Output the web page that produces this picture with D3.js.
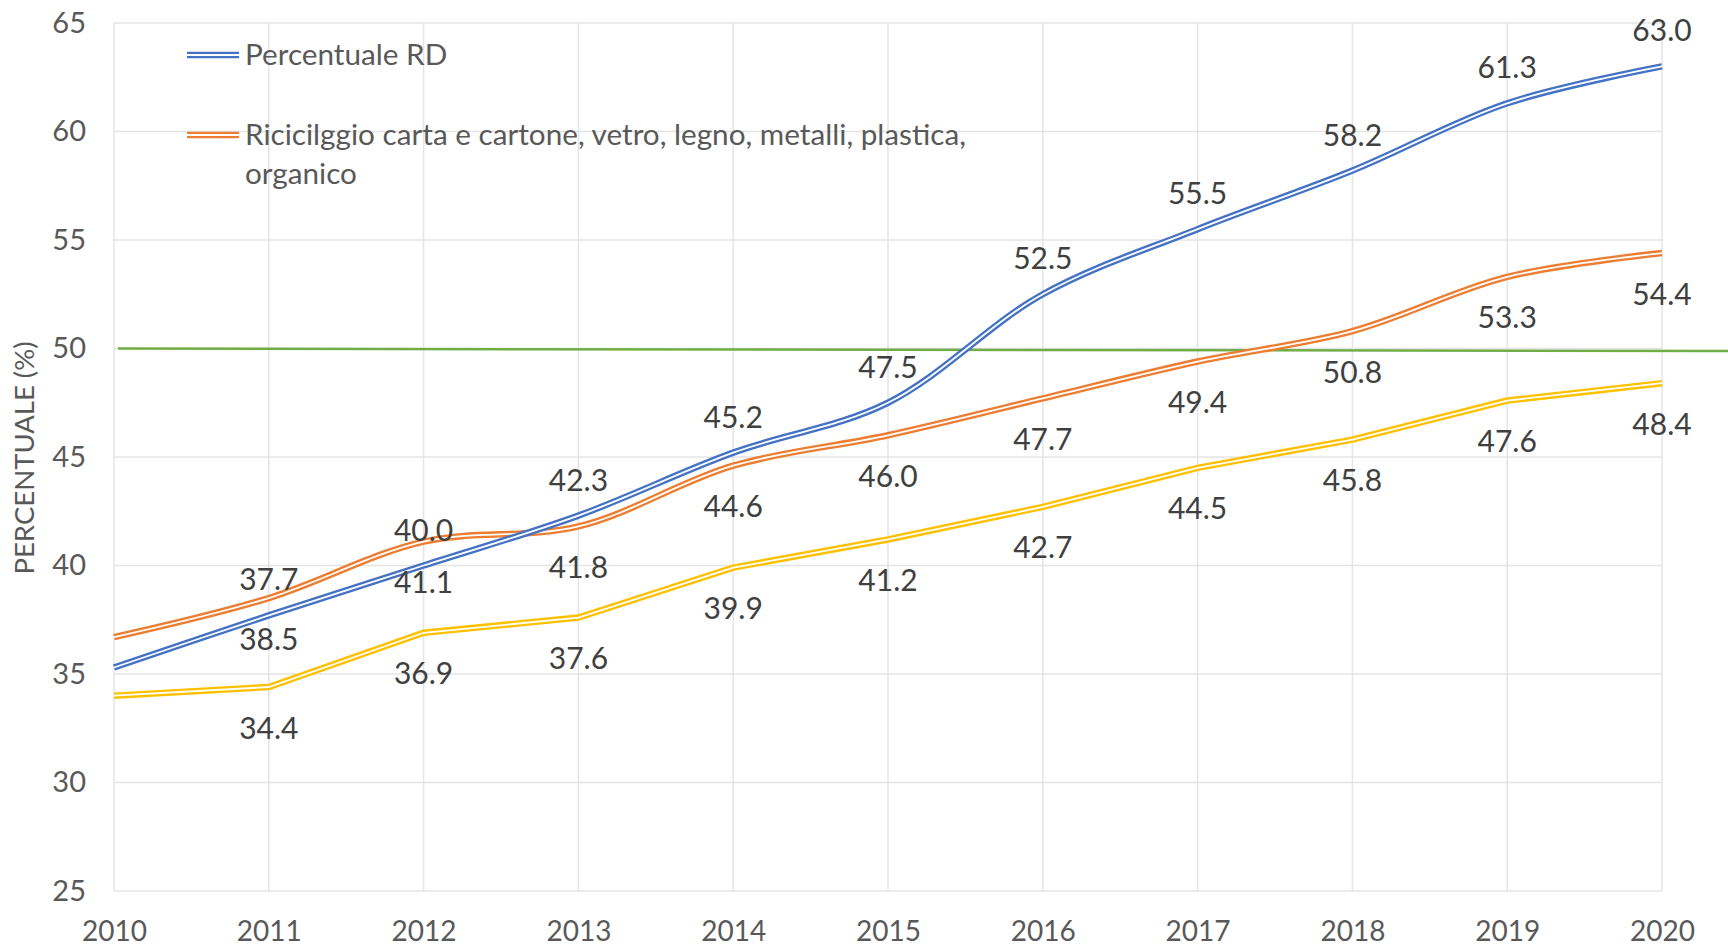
<!DOCTYPE html>
<html>
<head>
<meta charset="utf-8">
<script src="https://cdn.jsdelivr.net/npm/d3@7"></script>
<style>
  html, body { margin: 0; padding: 0; background: #fff; }
  svg { display: block; font-family: Lato, "Open Sans", sans-serif; }
</style>
</head>
<body>
<svg id="chart" width="1728" height="947"></svg>
<script>
// ---- data ----
const years = [2010, 2011, 2012, 2013, 2014, 2015, 2016, 2017, 2018, 2019, 2020];
const percentualeRD = [35.3, 37.7, 40.0, 42.3, 45.2, 47.5, 52.5, 55.5, 58.2, 61.3, 63.0];
const riciclaggio = [36.7, 38.5, 41.1, 41.8, 44.6, 46.0, 47.7, 49.4, 50.8, 53.3, 54.4];
const terzaSerie = [34.0, 34.4, 36.9, 37.6, 39.9, 41.2, 42.7, 44.5, 45.8, 47.6, 48.4];
const targetYears = [2010, 2020.43];
const targetValues = [50.0, 49.88];
const yTicks = [25, 30, 35, 40, 45, 50, 55, 60, 65];
const legendLabels = ["Percentuale RD", ["Ricicilggio carta e cartone, vetro, legno, metalli, plastica,", "organico"]];
const yTitle = "PERCENTUALE (%)";

// ---- layout ----
const svg = d3.select("#chart");
const x = d3.scaleLinear().domain([2010, 2020]).range([114, 1662]);
const y = d3.scaleLinear().domain([25, 65]).range([891, 23]);

const gridColor = "#e4e4e4";
const tickColor = "#595959";
const labelColor = "#404040";

// gridlines
svg.append("g").selectAll("line.h").data(yTicks).join("line")
  .attr("x1", x(2010)).attr("x2", x(2020))
  .attr("y1", d => y(d)).attr("y2", d => y(d))
  .attr("stroke", gridColor).attr("stroke-width", 1.5);
svg.append("g").selectAll("line.v").data(years).join("line")
  .attr("x1", d => x(d)).attr("x2", d => x(d))
  .attr("y1", y(65)).attr("y2", y(25))
  .attr("stroke", gridColor).attr("stroke-width", 1.5);

// axes
const yAxis = d3.axisLeft(y).tickValues(yTicks).tickSize(0).tickPadding(28).tickFormat(d3.format("d"));
const gy = svg.append("g").attr("transform", `translate(${x(2010)},0)`).call(yAxis);
gy.select(".domain").remove();
gy.selectAll("text").attr("fill", tickColor).attr("font-size", 29).attr("font-family", "Lato");

const xAxis = d3.axisBottom(x).tickValues(years).tickSize(0).tickPadding(30).tickFormat(d3.format("d"));
const gx = svg.append("g").attr("transform", `translate(0,${y(25)})`).call(xAxis);
gx.select(".domain").remove();
gx.selectAll("text").attr("fill", tickColor).attr("font-size", 28).attr("font-family", "Lato");

// y title
svg.append("text")
  .attr("transform", `translate(34,${(y(25)+y(65))/2 + 1}) rotate(-90)`)
  .attr("text-anchor", "middle")
  .attr("fill", tickColor).attr("font-size", 27.5)
  .text(yTitle);

// target line
const targetData = targetYears.map((t, i) => ({x: t, v: targetValues[i]}));
svg.append("path")
  .datum(targetData)
  .attr("d", d3.line().x(d => x(d.x) + 4).y(d => y(d.v)))
  .attr("fill", "none").attr("stroke", "#70ad47").attr("stroke-width", 2.5);

// double-line series
function drawSeries(values, color, curve) {
  const data = years.map((yr, i) => ({x: yr, v: values[i]}));
  const line = d3.line().x(d => x(d.x)).y(d => y(d.v)).curve(curve);
  svg.append("path").datum(data).attr("d", line)
    .attr("fill", "none").attr("stroke", color).attr("stroke-width", 6.5);
  svg.append("path").datum(data).attr("d", line)
    .attr("fill", "none").attr("stroke", "#fff").attr("stroke-width", 1.8);
}
drawSeries(terzaSerie, "#ffc000", d3.curveLinear);
drawSeries(riciclaggio, "#ed7d31", d3.curveCatmullRom.alpha(0.5));
drawSeries(percentualeRD, "#4472c4", d3.curveCatmullRom.alpha(0.5));

// data labels
function drawLabels(values, above) {
  const data = years.map((yr, i) => ({x: yr, v: values[i]})).slice(1);
  svg.append("g").selectAll("text").data(data).join("text")
    .attr("x", d => x(d.x))
    .attr("y", d => above ? y(d.v) - 25 : y(d.v) + 51.5)
    .attr("text-anchor", "middle")
    .attr("fill", labelColor).attr("font-size", 30)
    .text(d => d3.format(".1f")(d.v));
}
drawLabels(percentualeRD, true);
drawLabels(riciclaggio, false);
drawLabels(terzaSerie, false);

// legend
const legend = svg.append("g");
function legendSwatch(cy, color) {
  legend.append("line").attr("x1", 187).attr("x2", 239).attr("y1", cy).attr("y2", cy)
    .attr("stroke", color).attr("stroke-width", 6.5);
  legend.append("line").attr("x1", 187).attr("x2", 239).attr("y1", cy).attr("y2", cy)
    .attr("stroke", "#fff").attr("stroke-width", 1.8);
}
legendSwatch(55, "#4472c4");
legend.append("text").attr("x", 245).attr("y", 65).attr("fill", tickColor).attr("font-size", 29.7)
  .text(legendLabels[0]);
legendSwatch(135, "#ed7d31");
const t2 = legend.append("text").attr("x", 245).attr("y", 145).attr("fill", tickColor).attr("font-size", 29.7);
legendLabels[1].forEach((s, i) => {
  t2.append("tspan").attr("x", 245).attr("dy", i === 0 ? 0 : 39).text(s);
});
</script>
</body>
</html>
